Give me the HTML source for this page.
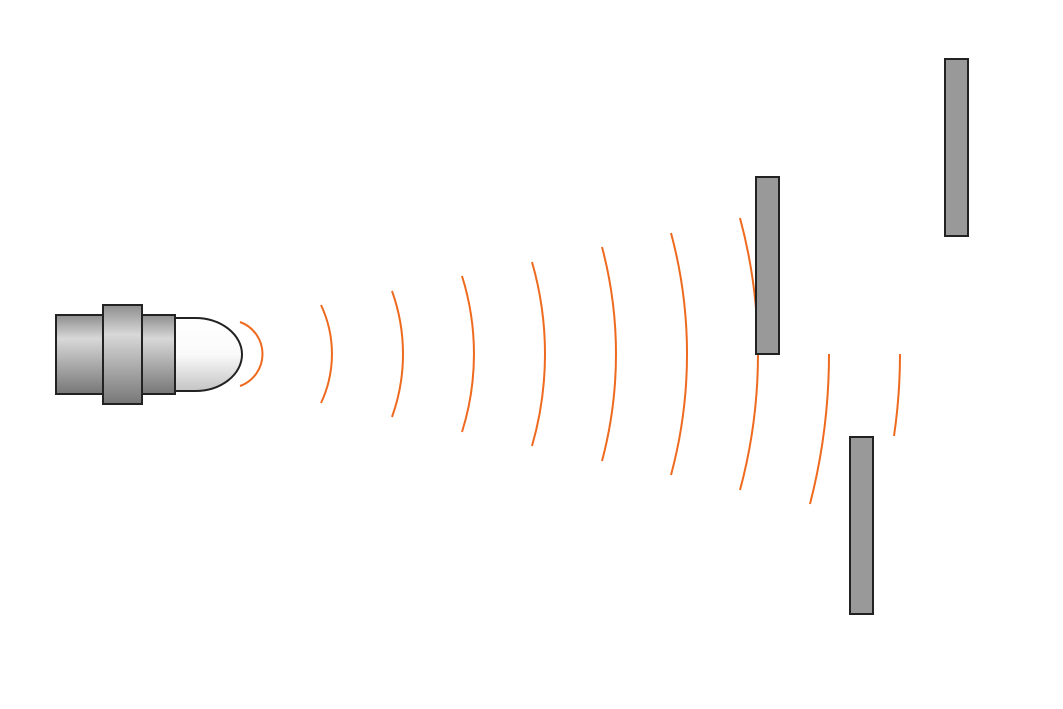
<!DOCTYPE html>
<html><head><meta charset="utf-8"><style>html,body{margin:0;padding:0;background:#fff;}svg{display:block}</style></head>
<body>
<svg width="1063" height="709" viewBox="0 0 1063 709" xmlns="http://www.w3.org/2000/svg">
<defs>
<linearGradient id="g" x1="0" y1="0" x2="0" y2="1">
<stop offset="0" stop-color="#8e8e8e"/><stop offset="0.3" stop-color="#d8d8d8"/><stop offset="1" stop-color="#777"/>
</linearGradient>
<linearGradient id="d" x1="0" y1="0" x2="0" y2="1">
<stop offset="0" stop-color="#fff"/><stop offset="0.5" stop-color="#fafafa"/><stop offset="1" stop-color="#c4c4c4"/>
</linearGradient>
</defs>
<path d="M170 318 L195 318 A47 36.5 0 0 1 195 391 L170 391 Z" fill="url(#d)" stroke="#222" stroke-width="2"/>
<rect x="56" y="315" width="119" height="79" fill="url(#g)" stroke="#222" stroke-width="2"/>
<rect x="103" y="305" width="39" height="99" fill="url(#g)" stroke="#222" stroke-width="2"/>
<g fill="none" stroke="#ee6a1f" stroke-width="2">
<path d="M240 322 A34 34 0 0 1 240 386"/>
<path d="M321 305 A115 115 0 0 1 321 403"/>
<path d="M392 291 A186 186 0 0 1 392 417"/>
<path d="M462 276 A260 260 0 0 1 462 432"/>
<path d="M532 262 A332 332 0 0 1 532 446"/>
<path d="M602 247 A416 416 0 0 1 602 461"/>
<path d="M671 233 A465 465 0 0 1 671 475"/>
<path d="M740 218 A523 523 0 0 1 740 490"/>
<path d="M829 354 A601 601 0 0 1 810 504"/>
<path d="M900 354 A563 563 0 0 1 894 436"/>
</g>
<g fill="#999" stroke="#222" stroke-width="2">
<rect x="756" y="177" width="23" height="177"/>
<rect x="945" y="59" width="23" height="177"/>
<rect x="850" y="437" width="23" height="177"/>
</g>
</svg>
</body></html>
